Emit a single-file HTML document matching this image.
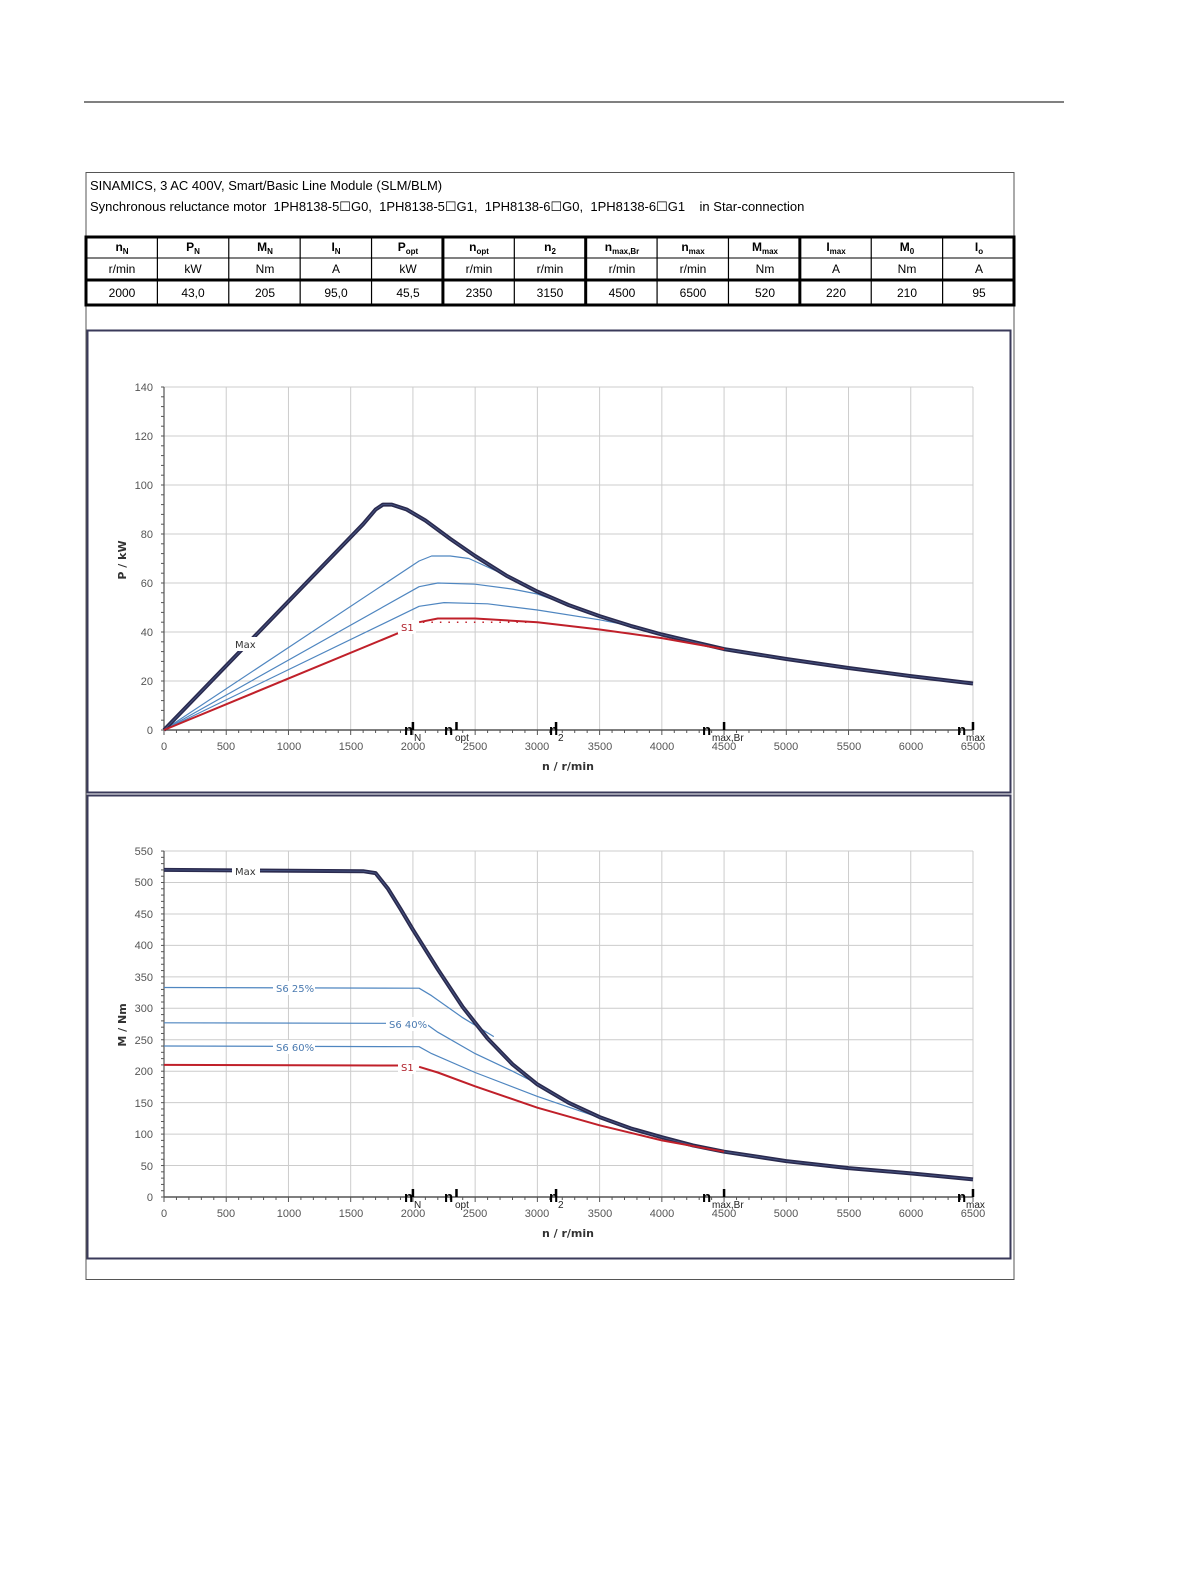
<!DOCTYPE html>
<html><head><meta charset="utf-8"><style>
html,body{margin:0;padding:0;background:#fff;overflow:hidden;width:1191px;height:1587px}
svg{display:block;font-family:"Liberation Sans",Arial,sans-serif}
.tk{font-size:11px;fill:#555}
.tb{font-size:12px;fill:#000;text-anchor:middle}
.hd{font-size:12px;font-weight:bold;fill:#000;text-anchor:middle}
.lb{font-family:"DejaVu Sans",sans-serif;font-size:10px}
.nm{font-size:15px;font-weight:bold;fill:#000}
.ns{font-size:10px;fill:#222}
.pre{white-space:pre}
</style></head><body>
<svg id="s" width="1191" height="1587" viewBox="0 0 1191 1587">
<line x1="84" y1="102" x2="1064" y2="102" stroke="#000" stroke-width="1"/>
<rect x="86" y="172.5" width="928" height="1107" fill="none" stroke="#555" stroke-width="1"/>
<text x="90" y="190" font-size="13">SINAMICS, 3 AC 400V, Smart/Basic Line Module (SLM/BLM)</text>
<text class="pre" x="90" y="211" font-size="13">Synchronous reluctance motor  1PH8138-5☐G0,  1PH8138-5☐G1,  1PH8138-6☐G0,  1PH8138-6☐G1    in Star-connection</text>
<g id="tbl"></g>
<g class="hd">
<text x="122" y="251">n<tspan font-size="8" dy="3">N</tspan></text>
<text x="193" y="251">P<tspan font-size="8" dy="3">N</tspan></text>
<text x="265" y="251">M<tspan font-size="8" dy="3">N</tspan></text>
<text x="336" y="251">I<tspan font-size="8" dy="3">N</tspan></text>
<text x="408" y="251">P<tspan font-size="8" dy="3">opt</tspan></text>
<text x="479" y="251">n<tspan font-size="8" dy="3">opt</tspan></text>
<text x="550" y="251">n<tspan font-size="8" dy="3">2</tspan></text>
<text x="622" y="251">n<tspan font-size="8" dy="3">max,Br</tspan></text>
<text x="693" y="251">n<tspan font-size="8" dy="3">max</tspan></text>
<text x="765" y="251">M<tspan font-size="8" dy="3">max</tspan></text>
<text x="836" y="251">I<tspan font-size="8" dy="3">max</tspan></text>
<text x="907" y="251">M<tspan font-size="8" dy="3">0</tspan></text>
<text x="979" y="251">I<tspan font-size="8" dy="3">o</tspan></text>
</g>
<g class="tb">
<text x="122" y="273">r/min</text><text x="193" y="273">kW</text><text x="265" y="273">Nm</text><text x="336" y="273">A</text><text x="408" y="273">kW</text><text x="479" y="273">r/min</text><text x="550" y="273">r/min</text><text x="622" y="273">r/min</text><text x="693" y="273">r/min</text><text x="765" y="273">Nm</text><text x="836" y="273">A</text><text x="907" y="273">Nm</text><text x="979" y="273">A</text>
<text x="122" y="297">2000</text><text x="193" y="297">43,0</text><text x="265" y="297">205</text><text x="336" y="297">95,0</text><text x="408" y="297">45,5</text><text x="479" y="297">2350</text><text x="550" y="297">3150</text><text x="622" y="297">4500</text><text x="693" y="297">6500</text><text x="765" y="297">520</text><text x="836" y="297">220</text><text x="907" y="297">210</text><text x="979" y="297">95</text>
</g>
<rect x="87.5" y="330.5" width="923" height="462" fill="none" stroke="#3a3a5a" stroke-width="2"/>
<rect x="87.5" y="795.5" width="923" height="463" fill="none" stroke="#3a3a5a" stroke-width="2"/>
<g id="c1"></g><g id="c2"></g>
<g class="tk" text-anchor="end">
<text x="153" y="391">140</text><text x="153" y="440">120</text><text x="153" y="489">100</text><text x="153" y="538">80</text><text x="153" y="587">60</text><text x="153" y="636">40</text><text x="153" y="685">20</text><text x="153" y="734">0</text>
<text x="153" y="855">550</text><text x="153" y="886">500</text><text x="153" y="918">450</text><text x="153" y="949">400</text><text x="153" y="981">350</text><text x="153" y="1012">300</text><text x="153" y="1044">250</text><text x="153" y="1075">200</text><text x="153" y="1107">150</text><text x="153" y="1138">100</text><text x="153" y="1170">50</text><text x="153" y="1201">0</text>
</g>
<g class="tk" text-anchor="middle">
<text x="164" y="750">0</text><text x="226" y="750">500</text><text x="289" y="750">1000</text><text x="351" y="750">1500</text><text x="413" y="750">2000</text><text x="475" y="750">2500</text><text x="537" y="750">3000</text><text x="600" y="750">3500</text><text x="662" y="750">4000</text><text x="724" y="750">4500</text><text x="786" y="750">5000</text><text x="849" y="750">5500</text><text x="911" y="750">6000</text><text x="973" y="750">6500</text>
<text x="164" y="1217">0</text><text x="226" y="1217">500</text><text x="289" y="1217">1000</text><text x="351" y="1217">1500</text><text x="413" y="1217">2000</text><text x="475" y="1217">2500</text><text x="537" y="1217">3000</text><text x="600" y="1217">3500</text><text x="662" y="1217">4000</text><text x="724" y="1217">4500</text><text x="786" y="1217">5000</text><text x="849" y="1217">5500</text><text x="911" y="1217">6000</text><text x="973" y="1217">6500</text>
</g>
<text x="568" y="770" font-size="11" font-weight="bold" fill="#333" text-anchor="middle" font-family="DejaVu Sans">n / r/min</text>
<text x="568" y="1237" font-size="11" font-weight="bold" fill="#333" text-anchor="middle" font-family="DejaVu Sans">n / r/min</text>
<text transform="translate(126,560) rotate(-90)" font-size="11" font-weight="bold" fill="#333" text-anchor="middle" font-family="DejaVu Sans">P / kW</text>
<text transform="translate(126,1025) rotate(-90)" font-size="11" font-weight="bold" fill="#333" text-anchor="middle" font-family="DejaVu Sans">M / Nm</text>
<g id="lbl">
<rect x="232" y="637" width="28" height="14" fill="#fff"/><text class="lb" x="235" y="648" fill="#333">Max</text>
<rect x="398" y="620" width="18" height="14" fill="#fff"/><text class="lb" x="401" y="631" fill="#b0202a">S1</text>
<rect x="232" y="864" width="28" height="14" fill="#fff"/><text class="lb" x="235" y="875" fill="#333">Max</text>
<rect x="273" y="981" width="42" height="14" fill="#fff"/><text class="lb" x="276" y="992" fill="#4a7ab0">S6 25%</text>
<rect x="386" y="1017" width="42" height="14" fill="#fff"/><text class="lb" x="389" y="1028" fill="#4a7ab0">S6 40%</text>
<rect x="273" y="1040" width="42" height="14" fill="#fff"/><text class="lb" x="276" y="1051" fill="#4a7ab0">S6 60%</text>
<rect x="398" y="1060" width="18" height="14" fill="#fff"/><text class="lb" x="401" y="1071" fill="#b0202a">S1</text>
</g>
<g><text class="nm" x="404" y="735">n</text><text class="ns" x="414" y="741">N</text>
<text class="nm" x="444" y="735">n</text><text class="ns" x="455" y="741">opt</text>
<text class="nm" x="549" y="735">n</text><text class="ns" x="558" y="741">2</text>
<text class="nm" x="702" y="735">n</text><text class="ns" x="712" y="741">max,Br</text>
<text class="nm" x="957" y="735">n</text><text class="ns" x="966" y="741">max</text></g>
<g><text class="nm" x="404" y="1202">n</text><text class="ns" x="414" y="1208">N</text>
<text class="nm" x="444" y="1202">n</text><text class="ns" x="455" y="1208">opt</text>
<text class="nm" x="549" y="1202">n</text><text class="ns" x="558" y="1208">2</text>
<text class="nm" x="702" y="1202">n</text><text class="ns" x="712" y="1208">max,Br</text>
<text class="nm" x="957" y="1202">n</text><text class="ns" x="966" y="1208">max</text></g>
</svg>
<script>
const NS="http://www.w3.org/2000/svg";
function el(p,t,a){const e=document.createElementNS(NS,t);for(const k in a)e.setAttribute(k,a[k]);p.appendChild(e);return e;}
const tb=document.getElementById('tbl');
el(tb,'rect',{x:86,y:237,width:928,height:68,fill:'none',stroke:'#000','stroke-width':3});
el(tb,'line',{x1:86,y1:258,x2:1014,y2:258,stroke:'#000','stroke-width':1});
el(tb,'line',{x1:86,y1:280,x2:1014,y2:280,stroke:'#000','stroke-width':3});
for(let i=1;i<13;i++){const x=86+i*928/13;el(tb,'line',{x1:x,y1:237,x2:x,y2:305,stroke:'#000','stroke-width':(i==5||i==7||i==10)?3:1.2});}
const X=n=>164+n*0.12446;
function chart(g,y0,ymax,step,N,yf,minor){
  const G=document.getElementById(g);
  for(let i=1;i<=13;i++){el(G,'line',{x1:X(i*500),y1:ymax,x2:X(i*500),y2:y0,stroke:'#ccc','stroke-width':1});}
  for(let j=1;j<=N;j++){const y=yf(j*step);el(G,'line',{x1:164,y1:y,x2:973,y2:y,stroke:'#ccc','stroke-width':1});}
  el(G,'line',{x1:164,y1:ymax,x2:164,y2:y0,stroke:'#555','stroke-width':1.2});
  el(G,'line',{x1:164,y1:y0,x2:973,y2:y0,stroke:'#555','stroke-width':1.5});
  for(let n=0;n<=6500;n+=100)el(G,'line',{x1:X(n),y1:y0,x2:X(n),y2:y0+(n%500?3:5),stroke:'#555'});
  for(let v=0;v<=N*step;v+=minor)el(G,'line',{x1:161,y1:yf(v),x2:164,y2:yf(v),stroke:'#555'});
  for(const n of [2000,2350,3150,4500,6500])el(G,'line',{x1:X(n),y1:y0,x2:X(n),y2:y0-8,stroke:'#000','stroke-width':2.5});
  return G;
}
function pl(G,pts,yf,col,w,extra){const s=pts.map(p=>X(p[0]).toFixed(1)+','+yf(p[1]).toFixed(1)).join(' ');const a={points:s,fill:'none',stroke:col,'stroke-width':w,'stroke-linejoin':'round'};Object.assign(a,extra||{});return el(G,'polyline',a);}
const Y1=p=>730-p*2.45, Y2=m=>1197-m*0.629;
const g1=chart('c1',730,387,20,7,Y1,4);
const tail=[[4500,33],[5000,29],[5500,25.3],[6000,22],[6500,19]];
const maxP=[[0,0],[1600,84],[1700,90],[1760,92],[1830,92],[1950,90],[2100,85.5],[2300,78],[2500,71],[2750,63],[3000,56.5],[3250,51],[3500,46.5],[3750,42.5],[4000,39],[4250,36]].concat(tail);
const dark='#2a2a4e',blue='#4f86c0',red='#c0202a';
pl(g1,[[2450,70],[2750,63],[3000,56.5],[3250,51],[3500,46.5],[3800,42],[4000,39],[4250,36]].concat(tail),Y1,blue,1.2);
pl(g1,[[0,0],[2050,69],[2150,71],[2300,71],[2450,70]],Y1,blue,1.2);
pl(g1,[[0,0],[2050,58.5],[2200,60],[2500,59.5],[2800,57.5],[3000,55.5],[3250,51],[3500,46.5]],Y1,blue,1.2);
pl(g1,[[0,0],[2050,50.5],[2250,52],[2600,51.5],[3000,49],[3500,45],[3800,42]],Y1,blue,1.2);
pl(g1,maxP,Y1,dark,4);
pl(g1,maxP,Y1,'#4a5a8a',0.8);
pl(g1,[[0,0],[1880,39.5]],Y1,red,2);
pl(g1,[[2050,44],[2200,45.5],[2500,45.5],[3000,44],[3500,41],[4000,37.5],[4500,33]],Y1,red,2);
pl(g1,[[2080,44],[2950,44]],Y1,red,1.5,{'stroke-dasharray':'1.5 7'});
const g2=chart('c2',1197,851,50,11,Y2,10);
const tail2=[[4500,72],[5000,57],[5500,46],[6000,37.5],[6500,28]];
const maxM=[[0,520],[1600,518],[1700,515],[1800,490],[1900,458],[2000,425],[2200,362],[2400,302],[2600,252],[2800,211],[3000,179],[3250,150],[3500,127],[3750,109],[4000,95],[4250,82]].concat(tail2);
pl(g2,[[0,333],[2050,332],[2150,320],[2400,285],[2650,255]],Y2,blue,1.2);
pl(g2,[[0,277],[2100,276],[2200,262],[2500,228],[2800,200],[3000,180],[3250,150]],Y2,blue,1.2);
pl(g2,[[0,240],[2050,239],[2150,228],[2500,198],[3000,160],[3500,126]],Y2,blue,1.2);
pl(g2,maxM,Y2,dark,4);
pl(g2,maxM,Y2,'#4a5a8a',0.8);
pl(g2,[[0,210],[1880,209]],Y2,red,2);
pl(g2,[[2050,207],[2200,198],[2500,176],[3000,142],[3500,114],[4000,90],[4500,72]],Y2,red,2);
const s=document.getElementById('s');[...s.querySelectorAll('#lbl, g:not([id])')].forEach(n=>s.appendChild(n));
</script>
</body></html>
